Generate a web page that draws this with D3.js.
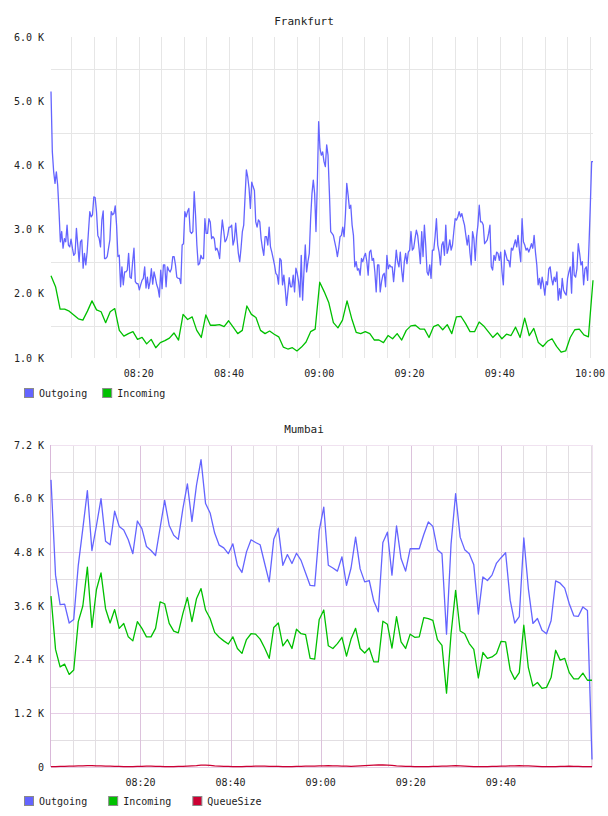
<!doctype html>
<html>
<head>
<meta charset="utf-8">
<script src="https://cdnjs.cloudflare.com/ajax/libs/d3/7.8.5/d3.min.js"></script>
<style>
  body { margin: 0; background: #fff; }
  svg { display: block; font-family: "DejaVu Sans Mono", monospace; }
</style>
</head>
<body>
<svg width="608" height="816"></svg>
<script>
// ---- Frankfurt ----
var frankfurtOutgoing = [
  5150,4210,3900,3720,3900,3690,3280,2810,2970,2710,2860,2810,3070,2760,2730,2850,2710,2600,2630,3020,
  2760,2500,2810,2840,2400,2630,2450,2650,2970,3280,3200,3230,3510,3500,3280,2910,2860,2730,3150,3290,
  2550,2550,2580,2710,2840,3280,3230,3250,3370,3070,2580,2600,2110,2420,2140,2340,2340,2370,2630,2260,
  2240,2500,2710,2190,2160,2160,2060,2140,2210,2240,2420,2090,2260,2080,2190,2390,2150,2340,2250,2140,
  2080,1950,2370,2080,2450,2450,2110,2420,2370,2340,2390,2580,2580,2450,2260,2240,2240,2160,2760,2780,
  3280,3200,3280,3330,2970,2940,2970,3590,3230,2760,2450,2470,2600,2550,2550,3170,2940,2940,3170,3120,
  2860,2890,2860,2680,2710,2650,2550,2890,3150,2990,2810,2840,2910,3040,3040,3070,2760,2840,3100,2860,
  2630,2500,2710,2970,3070,3510,3930,3820,3640,3330,3740,3670,3610,3120,3040,3150,3120,2860,2710,2600,
  2890,2890,2760,3040,2730,2650,2550,2450,2320,2290,2150,2550,2520,2140,2290,2080,1820,2030,2250,2110,
  2110,2290,2030,2400,2320,2190,1950,2600,1900,2340,2760,2340,2500,2630,3170,3560,3770,3560,2970,3720,
  4680,4260,4160,
  4210,4060,3980,4320,4160,3590,2970,2940,2910,2810,2710,2580,2710,2890,2910,3040,2890,3230,3720,3540,
  3330,3380,3070,2910,2420,2500,2370,2390,2290,2550,2500,2580,2630,2500,2290,2650,2680,2520,2550,2340,
  2030,2450,2450,2030,2190,2290,2320,2110,2600,2390,2450,2420,2420,2190,2420,2680,2500,2420,2650,2370,
  2190,2500,2630,2470,2650,2680,2970,2680,2710,2860,2990,2910,2710,2470,2970,2580,3070,2760,2340,2290,
  2450,2240,2680,2680,2890,3170,2760,2650,2450,2760,2810,2600,3070,2630,2710,2840,2680,2760,2970,3170,
  3150,3200,3280,3200,3250,3150,3070,2910,2760,2910,2650,2450,2970,2860,2520,2890,3070,3380,3120,3120,
  3070,2780,2810,2840,2940,3070,2420,2370,2600,2520,2650,2630,2520,2650,2340,2140,2680,2600,2520,2520,
  2420,2710,2680,2760,2840,2730,2910,2680,2500,3170,2810,2760,2680,2710,2650,2710,2780,2710,2910,2650,
  2450,2140,2240,2080,2260,2140,1980,2190,2140,2390,2420,2240,2140,2260,2190,2340,1900,2080,1930,2240,
  2060,2010,1980,2240,2340,2420,2010,2650,2290,2260,2390,2780,2630,2450,2500,2140,2390,2420,2210,2760,
  3380,4060,4060
];
var frankfurtIncoming = [
  2280,2110,1760,1760,1730,1670,1610,1590,1730,1890,1750,1720,1550,1720,1770,1430,1340,1380,1410,1290,
  1320,1220,1290,1160,1240,1270,1310,1390,1280,1680,1600,1640,1430,1320,1670,1510,1510,1520,1490,1580,
  1480,1380,1430,1810,1680,1630,1430,1380,1420,1370,1330,1170,1140,1160,1110,1170,1250,1410,1450,2180,
  2030,1860,1550,1470,1590,1890,1620,1400,1380,1410,1380,1280,1280,1240,1350,1300,1380,1280,1430,1500,
  1510,1450,1450,1320,1490,1520,1440,1520,1380,1640,1650,1540,1410,1410,1560,1500,1410,1320,1390,1300,
  1370,1350,1480,1320,1620,1350,1460,1240,1180,1260,1300,1180,1090,1110,1320,1440,1450,1360,1330,2210
];
var frankfurtYTicks = [1000, 2000, 3000, 4000, 5000, 6000];
var frankfurtYGrid = [1500, 2500, 3500, 4500, 5500];
var frankfurtTimeLabels = ["08:20", "08:40", "09:00", "09:20", "09:40", "10:00"];
var frankfurtSpan = ["08:00:34", "10:00:40"];

// ---- Mumbai ----
var mumbaiOutgoing = [
  6420,4290,3630,3640,3220,3300,4510,5330,6180,4840,5400,6000,5050,4970,5720,5380,5300,5080,4770,5500,
  5330,4930,4840,4730,5350,5960,5400,5180,5090,5770,6330,5490,6300,6875,5890,5680,5230,4960,4900,4770,
  4990,4510,4350,4810,5080,5020,4970,4550,4140,5090,5340,4510,4750,4550,4780,4620,4340,4060,4050,5290,
  5810,4510,4450,4380,4700,4060,4450,5140,4430,4140,4170,3710,3470,5020,5250,4290,5390,4660,4380,4880,
  4880,4880,5200,5480,5380,4860,4770,2970,4990,6110,5140,4860,4770,4520,3420,4250,4170,4290,4560,4680,
  4790,3730,3220,3360,5120,3990,3210,3320,3060,2980,3270,4160,4110,4000,3650,3380,3370,3580,3500,170
];
var mumbaiIncoming = [
  3820,2630,2240,2300,2070,2170,3250,3600,4470,3120,3970,4340,3540,3220,3520,3100,3210,2910,2820,3250,
  3100,2910,2910,3100,3690,3650,3210,3040,3000,3430,3790,3250,3760,3990,3510,3320,3010,2900,2820,2750,
  2910,2650,2540,2850,2980,2970,2860,2660,2430,3120,3220,2710,2850,2650,3080,2980,2960,2430,2410,3300,
  3510,2710,2650,2760,2900,2480,2860,3100,2650,2550,2660,2350,2350,3260,3190,2660,3360,2800,2650,2970,
  2900,2910,3340,3320,3280,2850,2720,1650,2980,3950,3040,2980,2760,2630,1990,2560,2430,2460,2540,2810,
  2800,2170,1960,2110,3170,2220,1810,1890,1760,1780,2000,2610,2390,2430,2110,1970,1970,2100,1940,1940
];
var mumbaiQueueSize = [
  10,10,15,15,20,20,25,25,30,30,25,25,20,20,15,15,10,10,10,15,
  15,20,20,15,15,10,10,10,15,15,20,25,30,40,40,35,25,20,15,15,
  10,10,10,15,15,20,20,20,15,15,15,10,10,10,15,15,20,20,20,25,
  25,30,25,25,20,20,15,20,25,30,35,40,45,45,40,35,25,20,15,15,
  10,10,10,10,15,15,20,20,25,30,25,20,15,10,10,10,10,15,15,20,
  20,25,25,30,25,25,20,15,10,10,10,10,15,15,20,15,15,10,10,10
];
var mumbaiYTicks = [0, 1200, 2400, 3600, 4800, 6000, 7200];
var mumbaiYGrid = [600, 1800, 3000, 4200, 5400, 6600];
var mumbaiTimeLabels = ["08:20", "08:40", "09:00", "09:20", "09:40"];
var mumbaiSpan = ["08:00:09", "10:00:13"];

var seriesColors = { Outgoing: "#6464ff", Incoming: "#00c000", QueueSize: "#cc0033" };

var parseTime = d3.timeParse("%H:%M:%S");
var parseHM = d3.timeParse("%H:%M");
var fmtK = function(v) { return v === 0 ? "0" : d3.format(".1f")(v / 1000) + " K"; };

var svg = d3.select("svg");

function drawChart(c) {
  var span = c.span.map(parseTime);
  var x = d3.scaleTime().domain(span).range([c.left, c.right]);
  var y = d3.scaleLinear().domain(c.yDomain).range([c.bottom, c.top]);
  var g = svg.append("g");

  // title, centred on the whole image
  g.append("text")
    .attr("x", 304)
    .attr("y", c.titleY)
    .attr("text-anchor", "middle")
    .style("font-size", "11px")
    .style("fill", "#222")
    .text(c.title);

  var majorTimes = c.timeLabels.map(parseHM);
  var isMajor = function(d) { return majorTimes.some(function(m) { return +m === +d; }); };
  var minutes5 = x.ticks(d3.timeMinute.every(5));

  // vertical grid
  g.selectAll(".vgrid").data(minutes5.filter(function(d) { return !c.pink || !isMajor(d); }))
    .enter().append("line")
      .attr("x1", function(d) { return Math.round(x(d)) + 0.5; })
      .attr("x2", function(d) { return Math.round(x(d)) + 0.5; })
      .attr("y1", c.top).attr("y2", c.bottom)
      .style("stroke", c.minorColor);

  // horizontal grid
  g.selectAll(".hgrid").data(c.yGrid)
    .enter().append("line")
      .attr("x1", c.left).attr("x2", c.right)
      .attr("y1", function(d) { return Math.round(y(d)) + 0.5; })
      .attr("y2", function(d) { return Math.round(y(d)) + 0.5; })
      .style("stroke", c.minorColor);

  if (c.pink) {
    g.selectAll(".vmajor").data(majorTimes)
      .enter().append("line")
        .attr("x1", function(d) { return Math.round(x(d)) + 0.5; })
        .attr("x2", function(d) { return Math.round(x(d)) + 0.5; })
        .attr("y1", c.top).attr("y2", c.bottom)
        .style("stroke", "#dcc2dc");
    g.selectAll(".hmajor").data(c.yTicks)
      .enter().append("line")
        .attr("x1", c.left).attr("x2", c.right)
        .attr("y1", function(d) { return Math.round(y(d)) + 0.5; })
        .attr("y2", function(d) { return Math.round(y(d)) + 0.5; })
        .style("stroke", function(d, i) { return i === c.yTicks.length - 1 ? "#f0e2f0" : "#e6cfe6"; });
    g.append("line")
      .attr("x1", c.right + 0.5).attr("x2", c.right + 0.5)
      .attr("y1", c.top).attr("y2", c.bottom)
      .style("stroke", "#f0e2f0");
    g.append("line")
      .attr("x1", c.left - 0.5).attr("x2", c.left - 0.5)
      .attr("y1", c.top).attr("y2", c.bottom)
      .style("stroke", "#d9b8d9");
  }

  // y labels
  g.selectAll(".ylab").data(c.yTicks)
    .enter().append("text")
      .attr("x", c.left - 7)
      .attr("y", function(d) { return y(d) + 3.5; })
      .attr("text-anchor", "end")
      .style("font-size", "10px")
      .style("fill", "#222")
      .text(fmtK);

  // x labels
  g.selectAll(".xlab").data(majorTimes)
    .enter().append("text")
      .attr("x", function(d) { return x(d); })
      .attr("y", c.bottom + 19)
      .attr("text-anchor", "middle")
      .style("font-size", "10px")
      .style("fill", "#222")
      .text(d3.timeFormat("%H:%M"));

  // series
  c.series.forEach(function(s) {
    var n = s.values.length;
    var t = d3.scaleLinear().domain([0, n - 1]).range(span.map(Number));
    var line = d3.line()
      .x(function(d, i) { return x(new Date(t(i))); })
      .y(function(d) { return y(d); });
    g.append("path")
      .datum(s.values)
      .attr("d", line)
      .style("fill", "none")
      .style("stroke", seriesColors[s.name])
      .style("stroke-width", 1.3)
      .style("stroke-linejoin", "round");
  });

  // legend
  var lx = 24;
  c.series.forEach(function(s) {
    g.append("rect")
      .attr("x", lx + 0.5).attr("y", c.legendY + 0.5)
      .attr("width", 9).attr("height", 9)
      .style("fill", seriesColors[s.name])
      .style("stroke", "#8a8a8a");
    var txt = g.append("text")
      .attr("x", lx + 15).attr("y", c.legendY + 9)
      .style("font-size", "10px")
      .style("fill", "#222")
      .text(s.name);
    lx += 15 + txt.node().getComputedTextLength() + c.legendGap;
  });
}

drawChart({
  title: "Frankfurt", titleY: 25,
  left: 51, right: 593, top: 37, bottom: 358,
  span: frankfurtSpan, yDomain: [1000, 6000],
  yTicks: frankfurtYTicks, yGrid: frankfurtYGrid, timeLabels: frankfurtTimeLabels,
  minorColor: "#e6e6e6", pink: false,
  legendY: 388, legendGap: 15,
  series: [
    { name: "Outgoing", values: frankfurtOutgoing },
    { name: "Incoming", values: frankfurtIncoming }
  ]
});

drawChart({
  title: "Mumbai", titleY: 433,
  left: 51, right: 592, top: 445, bottom: 767,
  span: mumbaiSpan, yDomain: [0, 7200],
  yTicks: mumbaiYTicks, yGrid: mumbaiYGrid, timeLabels: mumbaiTimeLabels,
  minorColor: "#e2dee2", pink: true,
  legendY: 796, legendGap: 21,
  series: [
    { name: "Outgoing", values: mumbaiOutgoing },
    { name: "Incoming", values: mumbaiIncoming },
    { name: "QueueSize", values: mumbaiQueueSize }
  ]
});
</script>
</body>
</html>
